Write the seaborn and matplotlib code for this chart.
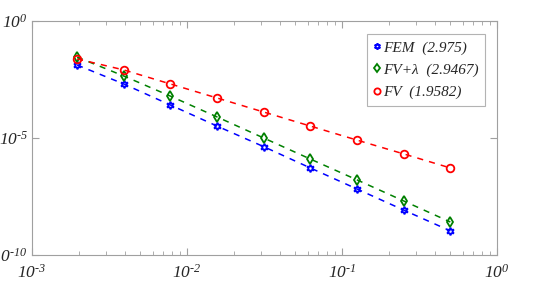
import matplotlib
matplotlib.use("Agg")
import matplotlib.pyplot as plt
import numpy as np
import pandas as pd
import seaborn as sns
from matplotlib.ticker import NullLocator, FixedLocator

h = [1 / 512, 1 / 256, 1 / 128, 1 / 64, 1 / 32, 1 / 16, 1 / 8, 1 / 4, 1 / 2]
err_fem = [10 ** v for v in [-1.88, -2.69, -3.59, -4.49, -5.37, -6.28, -7.18, -8.08, -8.97]]
err_fvl = [10 ** v for v in [-1.54, -2.35, -3.21, -4.10, -5.00, -5.90, -6.79, -7.69, -8.59]]
err_fv = [10 ** v for v in [-1.62, -2.09, -2.69, -3.29, -3.89, -4.49, -5.09, -5.68, -6.28]]

labels = ["FEM  (2.975)", "FV+\u03bb  (2.9467)", "FV  (1.9582)"]
colors = ["#0000ff", "#008000", "#ff0000"]
markers = [(6, 1, 0), "d", "o"]

xticks = [1e-3, 1e-2, 1e-1, 1e0]
xtick_labels = [r"$10^{\text{-3}}$", r"$10^{\text{-2}}$", r"$10^{\text{-1}}$", r"$10^{0}$"]
yticks = [1e-10, 1e-5, 1e0]
ytick_labels = [r"$10^{\text{-10}}$", r"$10^{\text{-5}}$", r"$10^{0}$"]

sns.set_style("ticks")
plt.rcParams["font.family"] = ["Liberation Serif", "DejaVu Serif"]
plt.rcParams["mathtext.fontset"] = "custom"
plt.rcParams["mathtext.rm"] = "Liberation Serif:italic"
plt.rcParams["mathtext.it"] = "Liberation Serif:italic"

fig = plt.figure(figsize=(5.54, 2.87), dpi=100)
ax = fig.add_axes([32 / 554, 1 - 255 / 287, 465 / 554, 234 / 287])

for err, lab, col, mk in zip([err_fem, err_fvl, err_fv], labels, colors, markers):
    df = pd.DataFrame({"h": h, "err": err})
    sns.lineplot(data=df, x="h", y="err", ax=ax, color=col,
                 linewidth=1.1, marker=mk, markersize=5.5, mfc="none",
                 mec=col, mew=1.3, label=lab)
    ax.lines[-1].set_linestyle((0, (4, 4)))

ax.set_xscale("log")
ax.set_yscale("log")
ax.set_xlim(1e-3, 1e0)
ax.set_ylim(1e-10, 1e0)
ax.set_xlabel("")
ax.set_ylabel("")

ax.yaxis.set_major_locator(FixedLocator(yticks))
ax.yaxis.set_minor_locator(NullLocator())
ax.set_yticklabels(ytick_labels)
minor_x = [m * 10.0 ** e for e in (-3, -2, -1) for m in range(2, 10)]
ax.xaxis.set_major_locator(FixedLocator(xticks))
ax.xaxis.set_minor_locator(FixedLocator(minor_x))
ax.set_xticklabels(xtick_labels)

ax.tick_params(which="both", direction="in", top=True, right=True,
               color="#a0a0a0", labelsize=12.5)
ax.tick_params(axis="y", pad=3)
ax.tick_params(axis="x", pad=6)
ax.tick_params(which="major", length=5)
ax.tick_params(which="minor", length=3)
for s in ax.spines.values():
    s.set_color("#a0a0a0")
    s.set_linewidth(0.8)

leg = ax.legend(loc="upper right", bbox_to_anchor=(0.975, 0.945), borderaxespad=0,
                frameon=True, fancybox=False, handlelength=0.4, handletextpad=0.2,
                labelspacing=0.55, borderpad=0.45,
                prop={"family": "Liberation Serif", "style": "italic", "size": 11})
leg.get_frame().set_edgecolor("#a0a0a0")
leg.get_frame().set_linewidth(0.8)
for line in leg.get_lines():
    line.set_linestyle("none")
    line.set_markersize(4.5)

fig.savefig("out.png", dpi=100)
